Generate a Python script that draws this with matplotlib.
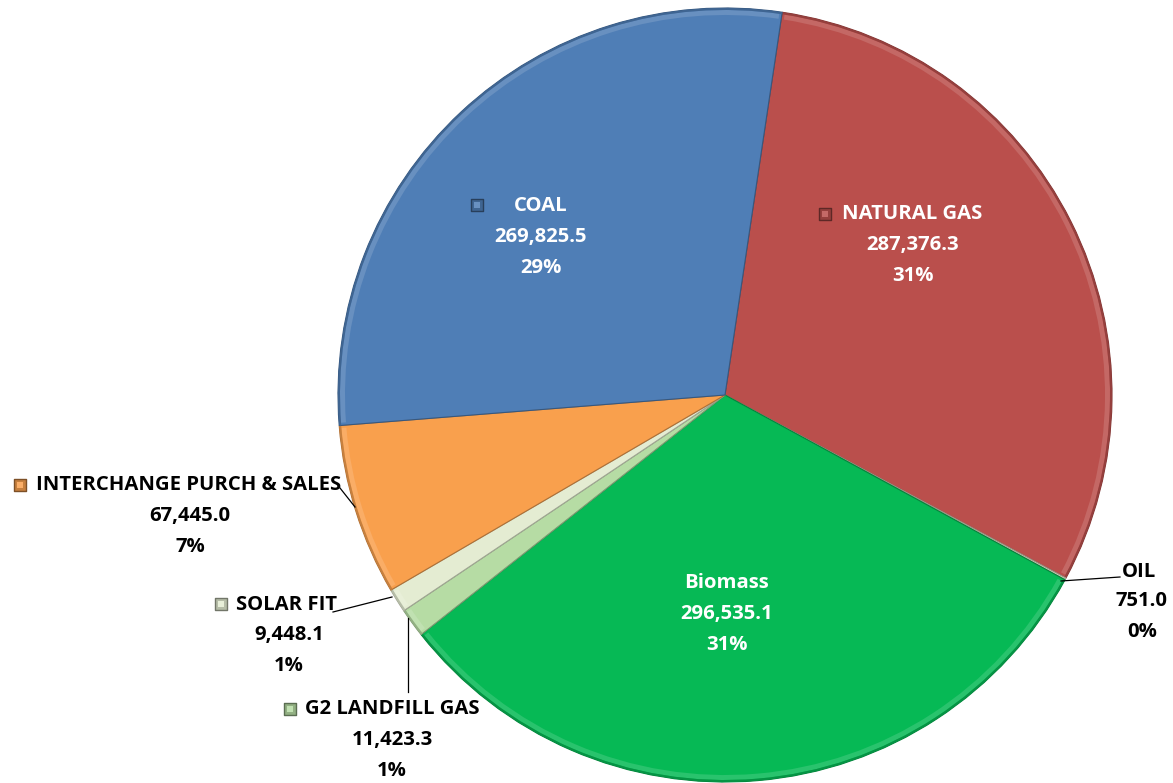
import numpy as np
import matplotlib
matplotlib.use("Agg")
import matplotlib.pyplot as plt
from matplotlib.patches import Wedge
from matplotlib.colors import to_rgb

# data, in the order the slices run clockwise from the top
names = ["NATURAL GAS", "OIL", "Biomass", "G2 LANDFILL GAS", "SOLAR FIT",
         "INTERCHANGE PURCH & SALES", "COAL"]
values = [287376.3, 751.0, 296535.1, 11423.3, 9448.1, 67445.0, 269825.5]
pcts = ["31%", "0%", "31%", "1%", "1%", "7%", "29%"]
colors = ["#BA4F4C", "#DCD6BE", "#06B955", "#B6DCA4", "#E4ECD2",
          "#F9A04D", "#4F7EB6"]

W, H = 1173, 783
cx, cy, R = 725, H - 395, 387
start = 81.5


def shade(c, f):
    r = np.array(to_rgb(c))
    if f > 0:
        return tuple(r + (1 - r) * f)
    return tuple(r * (1 + f))


fig = plt.figure(figsize=(W / 100, H / 100), dpi=100)
ax = fig.add_axes([0, 0, 1, 1])
ax.set_xlim(0, W)
ax.set_ylim(0, H)
ax.set_aspect("equal")
ax.axis("off")

total = sum(values)
theta = start
for v, c in zip(values, colors):
    span = 360.0 * v / total
    t1, t2 = theta - span, theta
    ax.add_patch(Wedge((cx, cy), R, t1, t2, facecolor=c,
                       edgecolor=shade(c, -0.3), linewidth=0.8))
    # bevel: light rim just inside the edge, darker outer rim
    if span > 2:
        ax.add_patch(Wedge((cx, cy), R - 2, t1 + 0.4, t2 - 0.4, width=5,
                           facecolor=shade(c, 0.14), edgecolor="none"))
    ax.add_patch(Wedge((cx, cy), R, t1, t2, width=2,
                       facecolor=shade(c, -0.2), edgecolor="none"))
    theta = t1

plt.rcParams["font.family"] = ["Open Sans", "DejaVu Sans"]


def label(x, y, lines, color, fs=14.6):
    for i, s in enumerate(lines):
        ax.text(x, H - (y + i * 31), s, ha="center", va="center",
                fontsize=fs, fontweight="bold", color=color)


def key(x, y, c):
    ax.scatter([x], [H - y], marker="s", s=85, color=shade(c, -0.2),
               edgecolors=shade(c, -0.5), linewidths=1.0, zorder=5)
    ax.scatter([x], [H - y], marker="s", s=22, color=shade(c, 0.15),
               linewidths=0, zorder=6)


lab = dict(zip(names, values))
per = dict(zip(names, pcts))
col = dict(zip(names, colors))


def two(n):
    return [f"{lab[n]:,.1f}", per[n]]


# labels inside the pie
label(541, 206, ["COAL"] + two("COAL"), "white")
key(477, 205, col["COAL"])

label(912, 214, ["NATURAL GAS"], "white")
label(913, 245, two("NATURAL GAS"), "white")
key(825, 214, col["NATURAL GAS"])

label(727, 583, ["Biomass"] + two("Biomass"), "white")

# labels outside with leader lines
label(1139, 572, ["OIL"], "black")
label(1142, 601, two("OIL"), "black")
ax.plot([1061, 1120], [H - 581, H - 577], color="black", lw=0.9)

label(189, 485, ["INTERCHANGE PURCH & SALES"], "black")
label(190, 516, two("INTERCHANGE PURCH & SALES"), "black")
key(20, 485, col["INTERCHANGE PURCH & SALES"])
ax.plot([340, 355], [H - 488, H - 507], color="black", lw=0.9)

label(287, 605, ["SOLAR FIT"], "black")
label(289, 635, two("SOLAR FIT"), "black")
key(221, 604, col["SOLAR FIT"])
ax.plot([333, 392], [H - 612, H - 597], color="black", lw=0.9)

label(392, 709, ["G2 LANDFILL GAS"], "black")
label(392, 740, two("G2 LANDFILL GAS"), "black")
key(290, 709, col["G2 LANDFILL GAS"])
ax.plot([408, 408], [H - 618, H - 692], color="black", lw=0.9)

fig.savefig("out.png", dpi=100, facecolor="white")
